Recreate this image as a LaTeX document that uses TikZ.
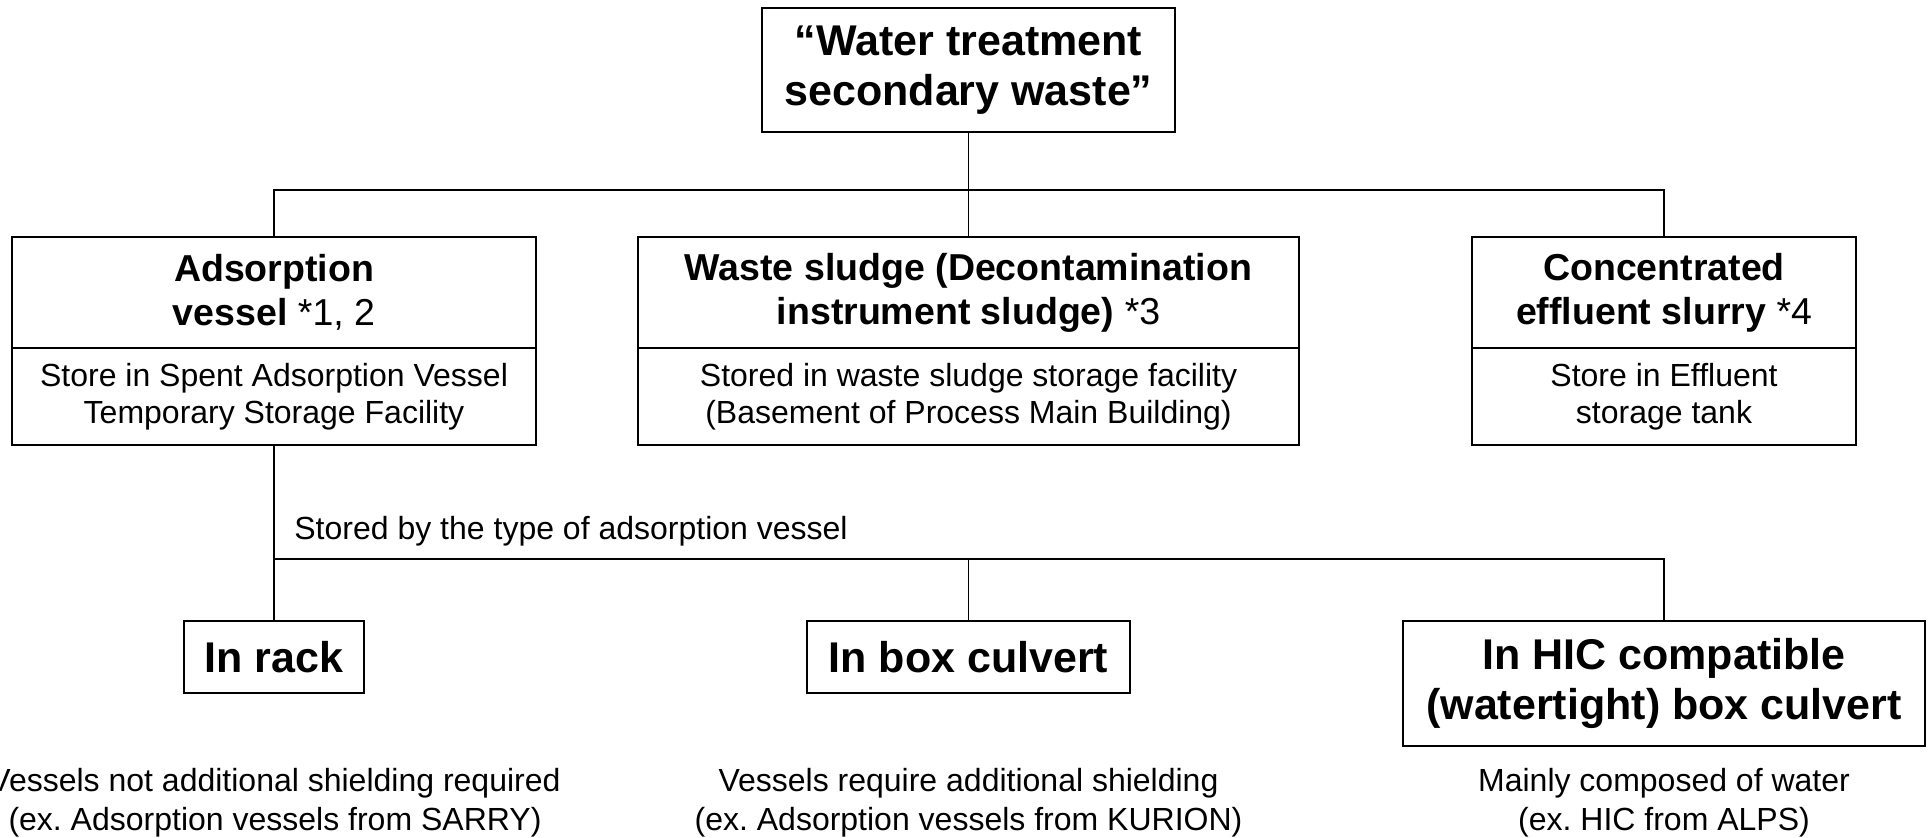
\documentclass[tikz,border=0pt]{standalone}
\usepackage{fontspec}
\setmainfont{Liberation Sans}
\frenchspacing
\begin{document}
\frenchspacing
\begin{tikzpicture}[x=0.5pt,y=-0.5pt,
  box/.style={draw, line width=1pt, inner sep=0pt, align=center},
  big/.style={font=\fontsize{21.5}{25}\selectfont\bfseries},
  head/.style={font=\fontsize{18.75}{22}\selectfont},
  body/.style={font=\fontsize{16}{18.5}\selectfont},
  desc/.style={align=center, inner sep=0pt, font=\fontsize{16}{19.5}\selectfont},
  conn/.style={line width=0.75pt}]
\useasboundingbox (0,0) rectangle (1932,838);
% top
\node[box,big,minimum width=206.5pt,minimum height=62pt] (top) at (968.5,70) {“Water treatment\\secondary waste”};
% level 1
\node[box,head,minimum width=262pt,minimum height=55.5pt] (adsh) at (274,292.5) {\textbf{Adsorption}\\\textbf{vessel} *1, 2};
\node[box,body,minimum width=262pt,minimum height=48.5pt] (adsb) at (274,396.5) {Store in Spent Adsorption Vessel\\Temporary Storage Facility};
\node[box,head,minimum width=330.5pt,minimum height=55.5pt] (wasteh) at (968.5,292.5) {\textbf{Waste sludge (Decontamination}\\\textbf{instrument sludge)} *3};
\node[box,body,minimum width=330.5pt,minimum height=48.5pt] (wasteb) at (968.5,396.5) {Stored in waste sludge storage facility\\(Basement of Process Main Building)};
\node[box,head,minimum width=192pt,minimum height=55.5pt] (conch) at (1664,292.5) {\textbf{Concentrated}\\\textbf{effluent slurry} *4};
\node[box,body,minimum width=192pt,minimum height=48.5pt] (concb) at (1664,396.5) {Store in Effluent\\storage tank};
% level 2
\node[box,big,minimum width=90pt,minimum height=36pt] (rack) at (274,657) {In rack};
\node[box,big,minimum width=161.5pt,minimum height=36pt] (culv) at (968.5,657) {In box culvert};
\node[box,big,minimum width=261pt,minimum height=62.5pt] (hic) at (1664,683.5) {In HIC compatible\\(watertight) box culvert};
% connectors
\coordinate (j1) at (968.5,190);
\coordinate (j2) at (968.5,559);
\draw[conn] (top.south) -- (wasteh.north);
\draw[conn] (adsh.north) |- (j1) -| (conch.north);
\draw[conn] (adsb.south) -- (rack.north);
\draw[conn] (rack.north |- j2) -| (hic.north);
\draw[conn] (j2) -- (culv.north);
\node[anchor=west, inner sep=0pt, font=\fontsize{16}{19}\selectfont] (lbl) at (294,531) {Stored by the type of adsorption vessel};
% descriptions
\node[desc] (d1) at (275,802.5) {Vessels not additional shielding required\\(ex. Adsorption vessels from SARRY)};
\node[desc] (d2) at (968.5,802.5) {Vessels require additional shielding\\(ex. Adsorption vessels from KURION)};
\node[desc] (d3) at (1664,802.5) {Mainly composed of water\\(ex. HIC from ALPS)};
\end{tikzpicture}
\end{document}
